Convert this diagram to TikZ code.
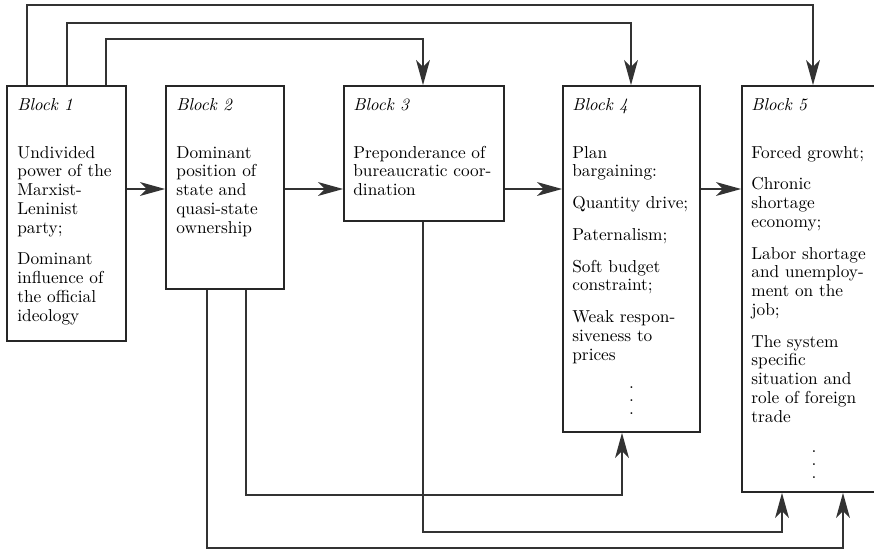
\documentclass[tikz,border=0pt]{standalone}
\usetikzlibrary{arrows.meta,fit}
\begin{document}
\begin{tikzpicture}[x=0.578pt,y=-0.578pt,
  box/.style={draw=black!85, line width=1pt, inner sep=0pt},
  conn/.style={draw=black!80, line width=0.8pt},
  arr/.style={conn, -{Stealth[length=14.5pt,width=8pt,inset=4pt]}},
  txt/.style={anchor=base west, inner sep=0pt, font=\fontsize{10}{10.85}\selectfont},
  dotmark/.style={anchor=base, inner sep=0pt, font=\fontsize{10}{7.7}\selectfont}]
\useasboundingbox (0,0) rectangle (874,549);
\clip (0,0) rectangle (874,549);
\newcommand{\bodytext}[1]{\parbox[t]{92pt}{\raggedright\hyphenpenalty=10000\parindent=0pt\parskip=7.5pt #1}}
\newcommand{\threedots}{\parbox[t]{4pt}{\centering .\\.\\.}}

% blocks
\node[box, fit={(7,86) (126,341)}] (b1) {};
\node[box, fit={(166,86) (284,289)}] (b2) {};
\node[box, fit={(344,86) (504,221)}] (b3) {};
\node[box, fit={(563,86) (700,432)}] (b4) {};
\node[box, fit={(742,86) (884,492)}] (b5) {};

% headers
\node[txt] (h1) at (17,110) {\textit{Block 1}};
\node[txt] (h2) at (176,110) {\textit{Block 2}};
\node[txt] (h3) at (353,110) {\textit{Block 3}};
\node[txt] (h4) at (572,110) {\textit{Block 4}};
\node[txt] (h5) at (751,110) {\textit{Block 5}};

% bodies
\node[txt] (t1) at (17,158) {\bodytext{Undivided\\ power of the\\ Marxist-\\ Leninist\\ party;\par Dominant\\ influence of\\ the official\\ ideology}};
\node[txt] (t2) at (176,158) {\bodytext{Dominant\\ position of\\ state and\\ quasi-state\\ ownership}};
\node[txt] (t3) at (353,158) {\bodytext{Preponderance of\\ bureaucratic coor-\\ dination}};
\node[txt] (t4) at (572,158) {\bodytext{Plan\\ bargaining:\par Quantity drive;\par Paternalism;\par Soft budget\\ constraint;\par Weak respon-\\ siveness to\\ prices}};
\node[txt] (t5) at (751,158) {\bodytext{Forced growht;\par Chronic\\ shortage\\ economy;\par Labor shortage\\ and unemploy-\\ ment on the\\ job;\par The system\\ specific\\ situation and\\ role of foreign\\ trade}};

% vertical dots
\node[dotmark] (d4) at (631.5,388) {\threedots};
\node[dotmark] (d5) at (814,452) {\threedots};

% horizontal arrows
\draw[arr] (b1.east |- 0,189) -- (b2.west |- 0,189);
\draw[arr] (b2.east |- 0,189) -- (b3.west |- 0,189);
\draw[arr] (b3.east |- 0,189) -- (b4.west |- 0,189);
\draw[arr] (b4.east |- 0,189) -- (b5.west |- 0,189);

% top connectors
\draw[arr] (27,0 |- b1.north) |- (813,5) -- (813,0 |- b5.north);
\draw[arr] (67,0 |- b1.north) |- (631,23) -- (631,0 |- b4.north);
\draw[arr] (106,0 |- b1.north) |- (423,39) -- (423,0 |- b3.north);

% bottom connectors
\draw[arr] (207,0 |- b2.south) |- (843,548) -- (843,0 |- b5.south);
\draw[arr] (246,0 |- b2.south) |- (622,495) -- (622,0 |- b4.south);
\draw[arr] (423,0 |- b3.south) |- (782,532) -- (782,0 |- b5.south);
\end{tikzpicture}
\end{document}
